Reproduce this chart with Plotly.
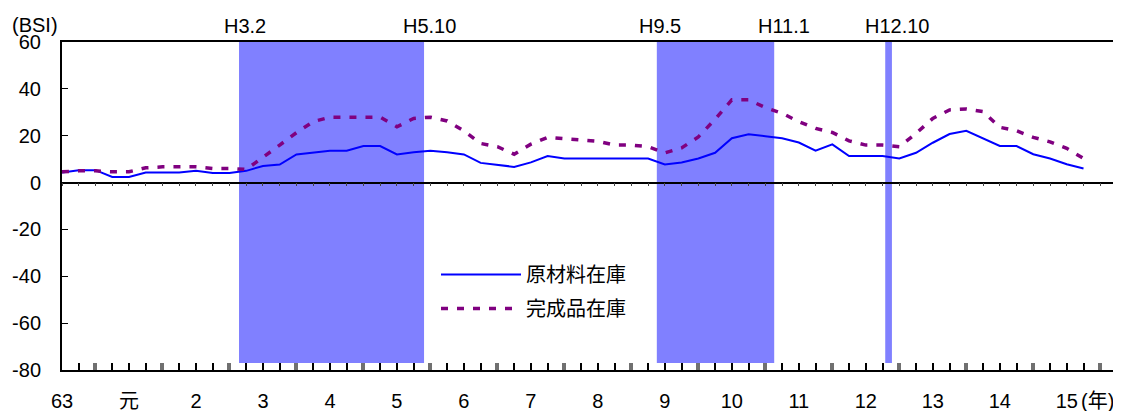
import plotly.graph_objects as go

# ---- data (quarterly, index 0 = S63 Q3) ----
quarter_index = list(range(62))
raw_materials = [4.3, 5.3, 5.3, 2.4, 2.4, 4.3, 4.3, 4.3, 5.0, 4.1, 4.1, 5.0, 7.1, 7.7,
                 12.0, 12.9, 13.6, 13.6, 15.6, 15.6, 12.0, 12.9, 13.6, 12.9, 12.0, 8.4,
                 7.7, 6.7, 8.6, 11.3, 10.3, 10.3, 10.3, 10.3, 10.3, 10.3, 7.7, 8.6,
                 10.3, 12.7, 18.9, 20.6, 19.8, 18.9, 17.1, 13.6, 16.3, 11.3, 11.3, 11.3,
                 10.3, 12.7, 17.0, 20.7, 22.1, 18.9, 15.6, 15.6, 12.1, 10.3, 7.8, 6.0]
finished_goods = [4.6, 5.0, 5.0, 4.6, 4.6, 6.3, 6.7, 6.7, 6.7, 6.0, 6.0, 5.6, 11.0, 16.0,
                  21.3, 26.0, 27.9, 27.9, 27.9, 27.9, 23.8, 27.4, 27.9, 26.3, 22.1, 16.7,
                  15.3, 12.1, 16.4, 19.3, 18.7, 18.1, 17.6, 16.0, 16.0, 15.3, 12.7, 14.8,
                  19.5, 27.0, 35.3, 35.3, 32.0, 29.6, 26.0, 23.1, 21.4, 17.8, 16.0, 16.0,
                  15.3, 21.0, 27.4, 31.0, 31.4, 30.3, 23.6, 22.1, 19.3, 17.4, 14.6, 10.3]
series_names = ["原材料在庫", "完成品在庫"]

year_label_pos = [0, 4, 8, 12, 16, 20, 24, 28, 32, 36, 40, 44, 48, 52, 56, 60]
year_labels = ["63", "元", "2", "3", "4", "5", "6", "7", "8", "9", "10", "11", "12", "13", "14", "15"]
year_boundaries = list(range(2, 63, 4))
quarter_ticks = list(range(0, 64))

y_ticks = [-80, -60, -40, -20, 0, 20, 40, 60]
y_ticktext = ["-80", "-60", "-40", "-20", "0", "20", "40", "60"]

band_start = [10.57, 35.52, 49.16]
band_end = [21.62, 42.53, 49.56]
band_labels = ["H3.2", "H5.10", "H9.5", "H11.1", "H12.10"]
band_label_pos = [10.93, 21.92, 35.7, 43.1, 49.9]

FONT = "Arial, 'Liberation Sans', 'Noto Sans CJK JP', sans-serif"
XR = [0, 63]
PW = 1055.0   # plot width in px
PH = 328.0    # plot height in px

# bottom-axis tick text: a label at each year centre, blank at the other quarters
label_map = dict(zip(year_label_pos, year_labels))
quarter_ticktext = [label_map.get(q, "") for q in quarter_ticks]

fig = go.Figure()
fig.add_trace(go.Scatter(x=quarter_index, y=raw_materials, name=series_names[0],
                         mode="lines", line=dict(color="#0000FF", width=2),
                         legendgroup="a"))
fig.add_trace(go.Scatter(x=quarter_index, y=finished_goods, name=series_names[1],
                         mode="lines", line=dict(color="#800080", width=3.5, dash="7px,9px"),
                         legendgroup="b"))
# invisible carriers for overlay tick axes
for ax in ["x2", "x4"]:
    fig.add_trace(go.Scatter(x=quarter_index, y=raw_materials, xaxis=ax, yaxis="y",
                             mode="lines", line=dict(width=0), opacity=0,
                             showlegend=False, hoverinfo="skip"))

for s, e in zip(band_start, band_end):
    fig.add_shape(type="rect", xref="x", yref="y", x0=s, x1=e, y0=-77, y1=60,
                  fillcolor="#8080FF", line=dict(width=0), layer="below")

for lab, pos in zip(band_labels, band_label_pos):
    fig.add_annotation(text=lab, x=pos, xref="x", y=(370 - 26) / PH, yref="paper",
                       showarrow=False, xanchor="center", yanchor="middle",
                       font=dict(size=20, color="black", family=FONT))
fig.add_annotation(text="(BSI)", x=-27 / PW, xref="paper", y=(370 - 25) / PH, yref="paper",
                   showarrow=False, xanchor="center", yanchor="middle",
                   font=dict(size=20, color="black", family=FONT))
fig.add_annotation(text="(年)", x=61.85, xref="x", y=(370 - 401) / PH, yref="paper",
                   showarrow=False, xanchor="center", yanchor="middle",
                   font=dict(size=20, color="black", family=FONT))

fig.update_layout(
    width=1113, height=403,
    margin=dict(l=54, r=4, t=34, b=41, autoexpand=False),
    paper_bgcolor="white", plot_bgcolor="white",
    font=dict(family=FONT, size=20, color="black"),
    showlegend=True,
    legend=dict(x=(436 - 62) / PW, xanchor="left", y=(370 - 255) / PH, yanchor="top",
                bgcolor="rgba(255,255,255,0)", itemwidth=80, tracegroupgap=5,
                font=dict(size=20, family="'Noto Sans CJK JP', sans-serif")),
    xaxis=dict(range=XR, showgrid=False, zeroline=False, showline=True, mirror=True,
               linecolor="black", linewidth=2, tickmode="array", tickvals=quarter_ticks,
               ticktext=quarter_ticktext, ticks="inside", ticklen=7, tickcolor="black",
               tickwidth=1.5, ticklabelstandoff=12, automargin=False,
               tickfont=dict(size=20)),
    xaxis2=dict(range=XR, overlaying="x", anchor="free", position=80 / 140, side="bottom",
                showgrid=False, zeroline=False, showline=True, linecolor="black", linewidth=1.5,
                tickmode="array", tickvals=quarter_ticks, ticks="outside", ticklen=3,
                tickcolor="#444444", tickwidth=1.2, showticklabels=False, automargin=False),
    xaxis4=dict(range=XR, overlaying="x", anchor="y", side="bottom", showgrid=False,
                zeroline=False, showline=False, tickmode="array", tickvals=year_boundaries,
                ticks="inside", ticklen=7, tickcolor="#707070", tickwidth=3.5,
                showticklabels=False, automargin=False),
    yaxis=dict(range=[-80, 60], showgrid=False, zeroline=False, showline=True, mirror=True,
               linecolor="black", linewidth=2, tickmode="array", tickvals=y_ticks,
               ticktext=y_ticktext, ticks="inside", ticklen=6, tickcolor="black",
               ticklabelstandoff=15, automargin=False, tickfont=dict(size=20)),
)

fig.write_html("out.html")
